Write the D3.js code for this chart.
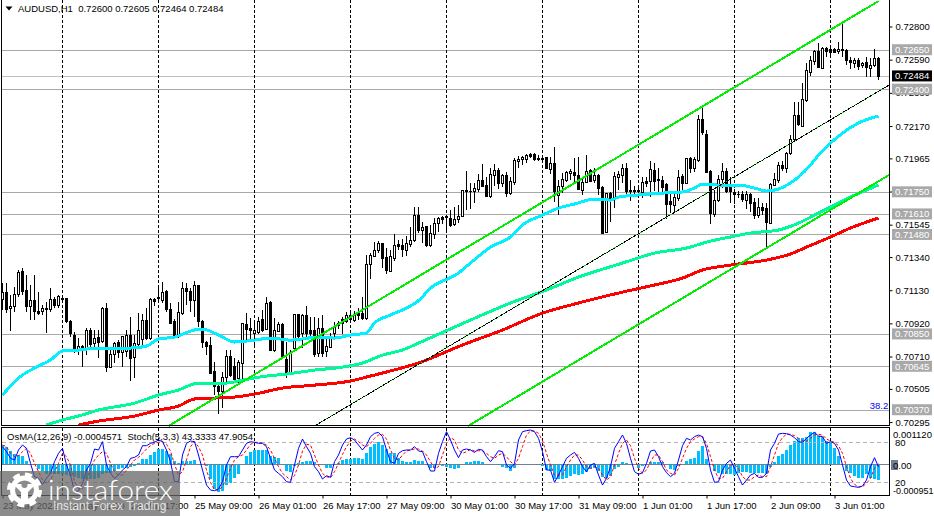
<!DOCTYPE html>
<html>
<head>
<meta charset="utf-8">
<script src="https://cdn.jsdelivr.net/npm/d3@7/dist/d3.min.js"></script>
<style>
  html, body { margin: 0; padding: 0; background: #fff; }
  svg { display: block; }
  text { font-family: "Liberation Sans", sans-serif; font-size: 9.5px; }
</style>
</head>
<body>
<div id="chart"></div>
<script>

var opens = [
  0.71070,0.71116,0.71013,0.71026,0.71104,0.71251,0.71131,0.71026,0.71062,0.70998,
  0.70994,0.71015,0.71009,0.71074,0.71032,0.71078,0.71076,0.70935,0.70846,0.70751,
  0.70773,0.70762,0.70878,0.70794,0.70830,0.70804,0.71015,0.70640,0.70724,0.70800,
  0.70737,0.70745,0.70846,0.70703,0.70787,0.70815,0.70941,0.70825,0.71072,0.71083,
  0.71062,0.71121,0.71011,0.70931,0.70846,0.70984,0.71138,0.71125,0.71068,0.71157,
  0.70935,0.70798,0.70777,0.70614,0.70519,0.70488,0.70578,0.70713,0.70646,0.70572,
  0.70667,0.70916,0.70889,0.70855,0.70863,0.70946,0.70884,0.71053,0.70751,0.70867,
  0.70914,0.70694,0.70604,0.70762,0.70977,0.70857,0.70973,0.70874,0.70874,0.70731,
  0.70889,0.70741,0.70769,0.70853,0.70920,0.70942,0.70931,0.70967,0.70937,0.70980,
  0.70980,0.70952,0.71296,0.71342,0.71380,0.71427,0.71338,0.71247,0.71328,0.71420,
  0.71416,0.71384,0.71422,0.71444,0.71606,0.71507,0.71532,0.71416,0.71486,0.71553,
  0.71591,0.71591,0.71585,0.71549,0.71579,0.71595,0.71764,0.71758,0.71754,0.71769,
  0.71828,0.71796,0.71726,0.71859,0.71891,0.71806,0.71859,0.71743,0.71811,0.71944,
  0.71961,0.71961,0.71990,0.71990,0.71965,0.71965,0.71969,0.71897,0.71933,0.71733,
  0.71785,0.71828,0.71870,0.71876,0.71859,0.71764,0.71811,0.71887,0.71828,0.71859,
  0.71781,0.71494,0.71743,0.71712,0.71844,0.71859,0.71901,0.71760,0.71762,0.71762,
  0.71747,0.71819,0.71817,0.71891,0.71830,0.71823,0.71802,0.71690,0.71669,0.71712,
  0.71849,0.71806,0.71965,0.71901,0.71954,0.72214,0.72119,0.71880,0.71612,0.71697,
  0.71832,0.71885,0.71785,0.71747,0.71739,0.71739,0.71701,0.71739,0.71684,0.71606,
  0.71655,0.71648,0.71553,0.71796,0.71828,0.71923,0.71901,0.71993,0.72082,0.72234,
  0.72170,0.72331,0.72508,0.72578,0.72641,0.72535,0.72658,0.72652,0.72652,0.72641,
  0.72649,0.72647,0.72584,0.72563,0.72582,0.72552,0.72571,0.72535,0.72552,0.72600
];
var highs = [
  0.71173,0.71173,0.71100,0.71152,0.71258,0.71273,0.71226,0.71163,0.71226,0.71121,
  0.71036,0.71057,0.71142,0.71089,0.71100,0.71100,0.71078,0.70939,0.70863,0.70825,
  0.70783,0.70893,0.70889,0.70878,0.70878,0.71026,0.71047,0.70762,0.70804,0.70815,
  0.70842,0.70878,0.70962,0.70846,0.70984,0.70977,0.71015,0.71078,0.71083,0.71142,
  0.71184,0.71131,0.71047,0.70948,0.71057,0.71184,0.71173,0.71142,0.71188,0.71163,
  0.70941,0.70808,0.70836,0.70678,0.70551,0.70614,0.70751,0.70751,0.70699,0.70688,
  0.70924,0.70984,0.70952,0.70931,0.70962,0.71005,0.71085,0.71062,0.70952,0.70931,
  0.70920,0.70804,0.70751,0.70981,0.70981,0.70977,0.71032,0.70963,0.70963,0.70952,
  0.70973,0.70836,0.70857,0.70931,0.70935,0.70963,0.70994,0.70988,0.71001,0.71015,
  0.71089,0.71353,0.71363,0.71437,0.71441,0.71431,0.71395,0.71384,0.71484,0.71448,
  0.71452,0.71473,0.71532,0.71659,0.71659,0.71564,0.71532,0.71543,0.71585,0.71595,
  0.71600,0.71606,0.71638,0.71659,0.71669,0.71764,0.71887,0.71806,0.71806,0.71866,
  0.71929,0.71844,0.71901,0.71929,0.71901,0.71866,0.71880,0.71844,0.71965,0.71980,
  0.71980,0.71992,0.71996,0.71996,0.71986,0.71971,0.71975,0.71975,0.72034,0.71828,
  0.71870,0.71887,0.71895,0.71965,0.71971,0.71838,0.71986,0.71895,0.71901,0.71866,
  0.71790,0.71743,0.71754,0.71880,0.71887,0.71927,0.71933,0.71828,0.71790,0.71796,
  0.71844,0.71844,0.71948,0.71933,0.71901,0.71853,0.71806,0.71743,0.71754,0.71891,
  0.71866,0.71969,0.71975,0.71975,0.72239,0.72292,0.72144,0.71891,0.71764,0.71859,
  0.71933,0.71901,0.71849,0.71769,0.71760,0.71760,0.71760,0.71743,0.71712,0.71712,
  0.71680,0.71680,0.71811,0.71874,0.71944,0.71948,0.72007,0.72113,0.72324,0.72324,
  0.72440,0.72567,0.72614,0.72651,0.72694,0.72668,0.72673,0.72673,0.72662,0.72704,
  0.72831,0.72656,0.72605,0.72599,0.72599,0.72578,0.72609,0.72599,0.72656,0.72605
];
var lows = [
  0.71005,0.70984,0.70874,0.70994,0.71089,0.71100,0.70990,0.70941,0.70941,0.70973,
  0.70973,0.70861,0.70994,0.71015,0.71019,0.71066,0.70924,0.70836,0.70730,0.70720,
  0.70646,0.70720,0.70773,0.70773,0.70703,0.70794,0.70614,0.70635,0.70667,0.70699,
  0.70646,0.70709,0.70557,0.70572,0.70762,0.70773,0.70815,0.70815,0.71032,0.71053,
  0.71047,0.70994,0.70914,0.70836,0.70825,0.70973,0.71036,0.70994,0.70962,0.70899,
  0.70762,0.70720,0.70597,0.70467,0.70346,0.70386,0.70530,0.70583,0.70562,0.70530,
  0.70540,0.70794,0.70804,0.70773,0.70851,0.70867,0.70878,0.70745,0.70741,0.70863,
  0.70699,0.70572,0.70600,0.70758,0.70825,0.70762,0.70836,0.70836,0.70705,0.70710,
  0.70710,0.70710,0.70762,0.70836,0.70883,0.70853,0.70920,0.70920,0.70931,0.70942,
  0.70942,0.70942,0.71201,0.71338,0.71363,0.71268,0.71230,0.71243,0.71317,0.71384,
  0.71342,0.71349,0.71406,0.71437,0.71490,0.71427,0.71401,0.71406,0.71452,0.71501,
  0.71549,0.71511,0.71532,0.71536,0.71558,0.71591,0.71638,0.71644,0.71680,0.71754,
  0.71781,0.71718,0.71712,0.71790,0.71769,0.71785,0.71722,0.71733,0.71796,0.71904,
  0.71923,0.71933,0.71965,0.71948,0.71948,0.71950,0.71895,0.71866,0.71690,0.71606,
  0.71743,0.71817,0.71828,0.71811,0.71764,0.71733,0.71806,0.71817,0.71806,0.71733,
  0.71486,0.71490,0.71560,0.71648,0.71764,0.71806,0.71739,0.71695,0.71722,0.71722,
  0.71712,0.71781,0.71722,0.71760,0.71733,0.71733,0.71579,0.71617,0.71617,0.71697,
  0.71754,0.71802,0.71870,0.71880,0.71944,0.72112,0.71870,0.71549,0.71595,0.71690,
  0.71775,0.71747,0.71680,0.71676,0.71712,0.71690,0.71642,0.71627,0.71579,0.71585,
  0.71606,0.71406,0.71549,0.71790,0.71806,0.71885,0.71874,0.71987,0.72078,0.72170,
  0.72162,0.72324,0.72487,0.72557,0.72535,0.72531,0.72609,0.72620,0.72630,0.72626,
  0.72609,0.72557,0.72529,0.72535,0.72525,0.72535,0.72478,0.72478,0.72546,0.72464
];
var closes = [
  0.71116,0.71009,0.71030,0.71106,0.71243,0.71125,0.71026,0.71062,0.70994,0.70984,
  0.71015,0.71005,0.71072,0.71032,0.71089,0.71072,0.70931,0.70855,0.70751,0.70773,
  0.70758,0.70878,0.70787,0.70825,0.70798,0.71015,0.70642,0.70724,0.70794,0.70737,
  0.70836,0.70842,0.70699,0.70794,0.70878,0.70941,0.70825,0.71074,0.71057,0.71078,
  0.71116,0.71005,0.70920,0.70846,0.70990,0.71138,0.71121,0.71068,0.71157,0.70931,
  0.70798,0.70773,0.70604,0.70519,0.70488,0.70578,0.70713,0.70593,0.70562,0.70671,
  0.70920,0.70884,0.70872,0.70872,0.70935,0.70878,0.71047,0.70751,0.70872,0.70914,
  0.70709,0.70608,0.70730,0.70977,0.70836,0.70973,0.70857,0.70857,0.70720,0.70889,
  0.70731,0.70773,0.70836,0.70895,0.70904,0.70920,0.70967,0.70942,0.70973,0.70971,
  0.70952,0.71296,0.71347,0.71384,0.71427,0.71332,0.71254,0.71342,0.71416,0.71406,
  0.71389,0.71427,0.71448,0.71602,0.71507,0.71530,0.71416,0.71490,0.71553,0.71585,
  0.71579,0.71595,0.71543,0.71579,0.71600,0.71760,0.71754,0.71754,0.71775,0.71828,
  0.71790,0.71722,0.71866,0.71891,0.71806,0.71859,0.71743,0.71817,0.71954,0.71961,
  0.71971,0.71986,0.71980,0.71958,0.71958,0.71961,0.71901,0.71933,0.71754,0.71790,
  0.71832,0.71874,0.71885,0.71859,0.71769,0.71813,0.71885,0.71821,0.71859,0.71775,
  0.71490,0.71743,0.71712,0.71849,0.71866,0.71901,0.71754,0.71754,0.71754,0.71754,
  0.71813,0.71806,0.71895,0.71821,0.71823,0.71781,0.71676,0.71674,0.71716,0.71844,
  0.71806,0.71963,0.71901,0.71961,0.72214,0.72127,0.71874,0.71617,0.71701,0.71834,
  0.71885,0.71754,0.71754,0.71739,0.71735,0.71707,0.71739,0.71680,0.71606,0.71655,
  0.71638,0.71558,0.71802,0.71832,0.71918,0.71901,0.71996,0.72086,0.72234,0.72177,
  0.72335,0.72521,0.72582,0.72641,0.72540,0.72662,0.72641,0.72635,0.72635,0.72652,
  0.72654,0.72584,0.72571,0.72582,0.72546,0.72567,0.72540,0.72552,0.72599,0.72484
];

// moving averages, read at the bars where they bend
var cyanBars = [0,4,8,12,15,19,24,27,32,36,39,43,48,50,54,58,63,67,72,79,83,87,91,93,97,101,105,106,114,117,122,127,130,135,139,143,148,152,154,159,165,170,173,175,179,184,188,191,194,197,199,202,204,207,210,214,219];
var cyanPrices = [0.70466,0.70574,0.70637,0.70688,0.70745,0.70751,0.70764,0.70764,0.70764,0.70776,0.70821,0.70833,0.70878,0.70884,0.70846,0.70802,0.70814,0.70827,0.70814,0.70833,0.70827,0.70846,0.70859,0.70922,0.70973,0.71017,0.71087,0.71118,0.71239,0.71302,0.71403,0.71467,0.71543,0.71606,0.71650,0.71676,0.71707,0.71701,0.71720,0.71733,0.71745,0.71752,0.71777,0.71802,0.71796,0.71796,0.71777,0.71758,0.71771,0.71809,0.71847,0.71923,0.71986,0.72062,0.72125,0.72189,0.72233];
var springBars = [11,15,19,24,33,39,44,49,56,60,66,71,78,85,90,95,100,104,121,127,136,144,155,163,171,177,182,187,194,199,204,207,212,219];
var springPrices = [0.70276,0.70308,0.70333,0.70371,0.70415,0.70466,0.70498,0.70542,0.70542,0.70561,0.70586,0.70599,0.70624,0.70643,0.70669,0.70719,0.70751,0.70795,0.70985,0.71049,0.71131,0.71213,0.71302,0.71365,0.71397,0.71441,0.71467,0.71492,0.71511,0.71555,0.71619,0.71657,0.71720,0.71796];
var redBars = [19,24,33,39,44,48,53,58,63,70,78,87,91,96,104,115,125,135,144,155,163,170,175,182,191,197,201,207,212,219];
var redPrices = [0.70276,0.70301,0.70333,0.70371,0.70396,0.70441,0.70447,0.70453,0.70472,0.70510,0.70529,0.70555,0.70580,0.70612,0.70669,0.70783,0.70878,0.70985,0.71049,0.71118,0.71163,0.71207,0.71258,0.71289,0.71321,0.71359,0.71403,0.71467,0.71524,0.71587];

// trend channel, start and end of each line
var upperBars = [41.5,219];
var upperPrices = [0.70270,0.72961];
var middleBars = [78,221.6];
var middlePrices = [0.70270,0.72429];
var lowerBars = [116.4,221.6];
var lowerPrices = [0.70270,0.71859];

var levels = [0.72650,0.72400,0.71750,0.71610,0.71480,0.70850,0.70645,0.70370];
var levelLabels = ["0.72650","0.72400","0.71750","0.71610","0.71480","0.70850","0.70645","0.70370"];
var lastPrice = 0.72484;
var priceTicks = [0.72800,0.72590,0.72380,0.72170,0.71965,0.71755,0.71545,0.71340,0.71130,0.70920,0.70710,0.70505,0.70295];

var daySeparators = [15,39,63,87,111,135,159,183,207];
var timeTicks = [0,16,32,48,64,80,96,112,128,144,160,176,192,208];
var timeLabels = ["23 May 2022","24 May 01:00","24 May 17:00","25 May 09:00","26 May 01:00","26 May 17:00","27 May 09:00","30 May 01:00","30 May 17:00","31 May 09:00","1 Jun 01:00","1 Jun 17:00","2 Jun 09:00","3 Jun 01:00"];

var osma = [
  0.00061,0.00053,0.00041,0.00033,0.00031,0.00028,0.00011,0.00003,-0.00002,-0.00014,
  -0.00019,-0.00027,-0.00029,-0.00029,-0.00029,-0.00029,-0.00031,-0.00034,-0.00037,-0.00039,
  -0.00042,-0.00044,-0.00042,-0.00042,-0.00039,-0.00027,-0.00024,-0.00024,-0.00019,-0.00014,
  -0.00011,-0.00009,-0.00007,-0.00004,0.00006,0.00018,0.00019,0.00031,0.00039,0.00049,
  0.00049,0.00043,0.00033,0.00013,0.00006,0.00011,0.00013,0.00013,0.00016,0.00001,
  -0.00001,-0.00004,-0.00044,-0.00074,-0.00082,-0.00079,-0.00061,-0.00054,-0.00039,-0.00027,
  0.00001,0.00026,0.00039,0.00044,0.00044,0.00046,0.00046,0.00026,0.00025,0.00021,
  0.00001,-0.00019,-0.00021,-0.00004,0.00006,0.00009,0.00011,0.00011,0.00008,0.00003,
  0.00003,-0.00009,-0.00009,-0.00001,0.00006,0.00014,0.00018,0.00019,0.00021,0.00021,
  0.00019,0.00036,0.00053,0.00063,0.00068,0.00061,0.00048,0.00036,0.00036,0.00021,
  0.00013,0.00009,0.00008,0.00016,0.00013,0.00011,-0.00001,-0.00011,-0.00009,-0.00002,
  -0.00004,-0.00007,-0.00009,-0.00012,-0.00009,-0.00001,0.00007,0.00008,0.00010,0.00013,
  0.00009,0.00001,0.00003,0.00003,-0.00002,-0.00006,-0.00011,-0.00019,-0.00009,-0.00001,
  0,0,0.00003,0,-0.00002,-0.00004,-0.00016,-0.00019,-0.00042,-0.00044,
  -0.00042,-0.00039,-0.00034,-0.00029,-0.00031,-0.00029,-0.00022,-0.00014,-0.00009,-0.00019,
  -0.00037,-0.00039,-0.00034,-0.00014,-0.00006,0.00007,0.00004,0.00003,0.00003,-0.00009,
  -0.00004,0.00003,0.00009,0.00009,0.00009,0.00009,-0.00001,-0.00014,-0.00016,-0.00004,
  -0.00001,0.00013,0.00018,0.00021,0.00043,0.00056,0.00018,0.00003,-0.00019,-0.00026,
  -0.00029,-0.00029,-0.00029,-0.00031,-0.00024,-0.00022,-0.00022,-0.00026,-0.00024,-0.00026,
  -0.00026,-0.00027,-0.00007,0.00009,0.00026,0.00033,0.00046,0.00059,0.00071,0.00081,
  0.00081,0.00086,0.00099,0.00101,0.00089,0.00086,0.00073,0.00069,0.00051,0.00026,
  -0.00001,-0.00019,-0.00024,-0.00034,-0.00039,-0.00039,-0.00029,-0.00041,-0.00044,-0.00046
];
var stochMain = [
  73.5,66,56,53.5,68.5,76,71,48.5,28.5,26,
  17,26,33.5,51,63.5,71,46,31,6,7,
  18.5,38.5,48.5,70,68.5,81,46,33.5,26,31,
  38.5,43.5,56,57.5,61,75,75,78.5,80,83.5,
  81,68.5,51,21,21,61,78.5,82,81,61,
  38.5,16,8.5,7.5,10,21,46,58.5,58.5,58.5,
  68.5,78.5,81,80,78.5,78.5,73.5,56,38.5,33.5,
  28.5,21,20,46,71,85,73.5,63.5,43.5,36,
  25,30,27.5,51,61,76,85,87,83.5,76,
  68.5,76,88.5,93.5,95,88.5,68.5,51,48.5,63.5,
  67.5,68.5,68.5,73.5,67,66,51,37,37,63.5,
  81,96,83.5,68.5,57,68.5,70,68.5,65,69.5,
  68.5,58.5,51,58.5,67.5,66,46,41,48.5,83.5,
  96,97.5,98.5,96,86,66,38.5,38.5,20,31,
  43.5,56,61,65,56,43.5,36,46,48.5,31,
  16,26,43.5,71,81,91,78.5,56,36,32,
  34.5,48.5,67,68.5,58.5,43.5,34.5,28.5,33.5,53.5,
  75,86,83.5,88.5,91,88.5,71,38.5,20,21,
  38.5,48.5,53.5,41,28.5,16,23.5,31,33.5,27.5,
  27.5,33.5,68.5,78.5,92.5,93.5,93,91,87,81,
  80,86,91,95,89.5,88.5,78.5,81,78.5,68.5,
  46,23.5,14.5,13.5,12.5,14.5,23.5,43.5,57,43.33
];
var stochSignal = [
  76,73.5,63.5,58.5,60,66,71,63.5,48.5,36,
  23.5,18.5,23.5,36,48.5,63.5,58.5,46,21,11,
  11,23.5,41,53.5,61,66,63.5,48.5,36,31,
  31,38.5,46,53.5,57.5,63.5,70,75,78.5,80,
  81,77,67,47,31,36,53.5,73.5,81,73.5,
  61,38.5,20,8.5,8.5,13.5,26,41,53.5,58.5,
  61,68.5,77,80,80,78.5,76,68.5,56,43.5,
  33.5,28.5,23.5,30,46,67,77,76,61,46,
  33.5,28.5,27,36,48.5,62,73.5,82,85,81,
  76,73.5,78.5,86,91,92,85,68.5,56,53.5,
  61,67,68.5,70,70,67,61,51,41,43.5,
  61,78.5,87,83.5,68.5,63.5,66,69.5,67,67.5,
  67,63.5,58.5,56,61,63.5,58.5,51,46,56,
  73.5,91,97,97,93.5,82.5,63.5,46,31,31,
  31,43.5,53.5,61,61,53.5,43.5,41,43.5,41,
  31,23.5,28.5,46,63.5,78.5,83.5,75,56,41,
  33.5,38.5,51,61,61,51,38.5,33.5,31,41,
  56,71,81,85,88.5,88.5,78.5,58.5,38.5,26,
  26,36,46,47,41,28.5,23.5,23.5,28.5,31,
  28.5,28.5,43.5,61,78.5,87,92.5,92,90,86,
  82.5,82,86,91,92,91,85,82,80,75,
  63.5,43.5,26,17,13.5,13.5,18.5,26,41,47.91
];

var width = 934, height = 516;
var plotLeft = 1.5, plotRight = 889.5;
var mainBottom = 425.5, subTop = 427.5, subBottom = 495.5;

var svg = d3.select("#chart").append("svg")
  .attr("width", width)
  .attr("height", height);

var xScale = d3.scaleLinear().domain([0, 219]).range([2.5, 878.5]);
var yScale = d3.scaleLinear().domain([0.70270, 0.72968]).range([426, 0]);
var osmaScale = d3.scaleLinear().domain([-0.000951, 0.00112]).range([496, 428]);
var stochScale = d3.scaleLinear().domain([0, 100]).range([495.7, 429]);

var bars = d3.range(opens.length);

function px(v) { return Math.round(v - 0.5) + 0.5; }

// levels first, the candles sit on them
svg.append("g").selectAll("line")
  .data(levels)
  .enter().append("line")
  .attr("x1", plotLeft).attr("x2", plotRight)
  .attr("y1", function(d){ return px(yScale(d)); })
  .attr("y2", function(d){ return px(yScale(d)); })
  .attr("stroke", "#a9a9a9")
  .attr("shape-rendering", "crispEdges");

svg.append("line")
  .attr("x1", plotLeft).attr("x2", plotRight)
  .attr("y1", px(yScale(lastPrice))).attr("y2", px(yScale(lastPrice)))
  .attr("stroke", "#c0c0c0")
  .attr("shape-rendering", "crispEdges");

// day separators in both panels
var sep = svg.append("g").selectAll("g").data(daySeparators).enter().append("g");
sep.append("line")
  .attr("x1", function(d){ return xScale(d); })
  .attr("x2", function(d){ return xScale(d); })
  .attr("y1", 0).attr("y2", mainBottom);
sep.append("line")
  .attr("x1", function(d){ return xScale(d); })
  .attr("x2", function(d){ return xScale(d); })
  .attr("y1", subTop).attr("y2", subBottom);
sep.selectAll("line")
  .attr("stroke", "#000")
  .attr("stroke-dasharray", "3,2")
  .attr("shape-rendering", "crispEdges");

// candles
var candle = svg.append("g").attr("shape-rendering", "crispEdges")
  .selectAll("g").data(bars).enter().append("g");

candle.append("line")
  .attr("x1", function(i){ return xScale(i); })
  .attr("x2", function(i){ return xScale(i); })
  .attr("y1", function(i){ return yScale(highs[i]); })
  .attr("y2", function(i){ return yScale(lows[i]); })
  .attr("stroke", "#000");

candle.append("rect")
  .attr("x", function(i){ return xScale(i) - 1; })
  .attr("width", 2)
  .attr("y", function(i){ return yScale(Math.max(opens[i], closes[i])); })
  .attr("height", function(i){ return Math.abs(yScale(opens[i]) - yScale(closes[i])); })
  .attr("fill", function(i){ return closes[i] >= opens[i] ? "#fff" : "#000"; })
  .attr("stroke", "#000");

var priceLine = d3.line()
  .curve(d3.curveMonotoneX)
  .x(function(d){ return xScale(d[0]); })
  .y(function(d){ return yScale(d[1]); });

function drawLine(barList, priceList, color, strokeWidth) {
  return svg.append("path")
    .attr("d", priceLine(d3.zip(barList, priceList)))
    .attr("fill", "none")
    .attr("stroke", color)
    .attr("stroke-width", strokeWidth)
    .attr("stroke-linejoin", "round")
    .attr("shape-rendering", "crispEdges");
}

drawLine(cyanBars, cyanPrices, "#00f0ff", 3);
drawLine(redBars, redPrices, "#ff0000", 3);
drawLine(springBars, springPrices, "#00fa9a", 3);
drawLine(upperBars, upperPrices, "#00ee00", 2);
drawLine(lowerBars, lowerPrices, "#00ee00", 2);
drawLine(middleBars, middlePrices, "#00ee00", 1);
drawLine(middleBars, middlePrices, "#000", 1).attr("stroke-dasharray", "4,1");

svg.append("text")
  .attr("x", 879).attr("y", 409)
  .attr("text-anchor", "middle")
  .attr("fill", "#0000ff")
  .text("38.2");

// oscillator panel
svg.append("g").attr("shape-rendering", "crispEdges")
  .selectAll("rect").data(bars).enter().append("rect")
  .attr("x", function(i){ return xScale(i) - 1.5; })
  .attr("width", 3)
  .attr("y", function(i){ return Math.min(osmaScale(osma[i]), osmaScale(0)); })
  .attr("height", function(i){ return Math.abs(osmaScale(osma[i]) - osmaScale(0)); })
  .attr("fill", "#00bfff");

svg.append("g").selectAll("line")
  .data([80, 20])
  .enter().append("line")
  .attr("x1", plotLeft).attr("x2", plotRight)
  .attr("y1", function(d){ return px(stochScale(d)); })
  .attr("y2", function(d){ return px(stochScale(d)); })
  .attr("stroke", "#b4b4b4")
  .attr("stroke-dasharray", "4,3")
  .attr("shape-rendering", "crispEdges");

svg.append("line")
  .attr("x1", plotLeft).attr("x2", plotRight)
  .attr("y1", px(osmaScale(0))).attr("y2", px(osmaScale(0)))
  .attr("stroke", "#708090")
  .attr("stroke-width", 1)
  .attr("shape-rendering", "crispEdges");

var stochLine = d3.line()
  .x(function(d, i){ return xScale(i); })
  .y(function(d){ return stochScale(d); });

svg.append("path")
  .attr("d", stochLine(stochSignal))
  .attr("fill", "none")
  .attr("stroke", "#ff0000")
  .attr("stroke-dasharray", "3,2");

svg.append("path")
  .attr("d", stochLine(stochMain))
  .attr("fill", "none")
  .attr("stroke", "#0000ff")
  .attr("stroke-width", 1);

// frames
svg.append("rect").attr("x", plotLeft).attr("y", -2)
  .attr("width", plotRight - plotLeft).attr("height", mainBottom + 2)
  .attr("fill", "none").attr("stroke", "#000").attr("shape-rendering", "crispEdges");
svg.append("rect").attr("x", plotLeft).attr("y", subTop)
  .attr("width", plotRight - plotLeft).attr("height", subBottom - subTop)
  .attr("fill", "none").attr("stroke", "#000").attr("shape-rendering", "crispEdges");

// price axis
var priceAxis = d3.axisRight(yScale)
  .tickValues(priceTicks)
  .tickFormat(d3.format(".5f"))
  .tickSize(3)
  .tickPadding(3);

var priceG = svg.append("g")
  .attr("transform", "translate(" + plotRight + ",0)")
  .call(priceAxis);
priceG.select(".domain").remove();
priceG.attr("font-family", null).attr("font-size", null);
priceG.selectAll("text").attr("fill", "#000");

// level tags cover the axis labels they land on
var tag = svg.append("g").selectAll("g").data(levels).enter().append("g")
  .attr("transform", function(d){ return "translate(0," + yScale(d) + ")"; });
tag.append("rect")
  .attr("x", 892).attr("y", -6).attr("width", 40).attr("height", 11)
  .attr("fill", "#a9a9a9");
tag.append("text")
  .attr("x", 895).attr("y", 3)
  .attr("fill", "#fff")
  .text(function(d, i){ return levelLabels[i]; });

var lastTag = svg.append("g").attr("transform", "translate(0," + yScale(lastPrice) + ")");
lastTag.append("rect")
  .attr("x", 892).attr("y", -6).attr("width", 40).attr("height", 11)
  .attr("fill", "#000");
lastTag.append("text")
  .attr("x", 895).attr("y", 3)
  .attr("fill", "#fff")
  .text(d3.format(".5f")(lastPrice));

// oscillator scale labels
svg.append("text").attr("x", 893).attr("y", 438).text("0.001120");
svg.append("text").attr("x", 895).attr("y", 446).text("80");
svg.append("rect").attr("x", 891).attr("y", 460).attr("width", 7).attr("height", 10).attr("fill", "#708090");
svg.append("text").attr("x", 893).attr("y", 469).text("0.00");
svg.append("text").attr("x", 895).attr("y", 486).text("20");
svg.append("text").attr("x", 893).attr("y", 494).style("font-size", "9px").text("-0.000951");

// time axis
var timeAxis = d3.axisBottom(xScale)
  .tickValues(timeTicks)
  .tickFormat(function(d, i){ return timeLabels[i]; })
  .tickSize(3)
  .tickPadding(4);

var timeG = svg.append("g")
  .attr("transform", "translate(0," + subBottom + ")")
  .call(timeAxis);
timeG.select(".domain").remove();
timeG.attr("font-family", null).attr("font-size", null);
timeG.selectAll("text")
  .attr("text-anchor", "start")
  .attr("fill", "#000");

// headers
svg.append("path")
  .attr("d", "M5.5,6.5 L12.5,6.5 L9,10.5 Z")
  .attr("fill", "#000");
svg.append("text")
  .attr("x", 18).attr("y", 12)
  .attr("xml:space", "preserve")
  .text("AUDUSD,H1  0.72600 0.72605 0.72464 0.72484");
svg.append("text")
  .attr("x", 7).attr("y", 440)
  .attr("xml:space", "preserve")
  .text("OsMA(12,26,9) -0.0004571  Stoch(5,3,3) 43.3333 47.9054");

// watermark
var mark = svg.append("g");
mark.append("rect")
  .attr("x", 0).attr("y", 471).attr("width", 180).attr("height", 45)
  .attr("fill", "#666").attr("opacity", 0.75);
mark.append("circle")
  .attr("cx", 24.5).attr("cy", 490).attr("r", 12)
  .attr("fill", "none").attr("stroke", "#fff").attr("stroke-width", 5);
mark.append("circle")
  .attr("cx", 24.5).attr("cy", 490).attr("r", 15.5)
  .attr("fill", "none").attr("stroke", "#fff").attr("stroke-width", 4)
  .attr("stroke-dasharray", "7,5.17");
mark.append("path")
  .attr("d", "M13,484 L36,484 L28,492 L28,502 L21,502 L21,492 Z")
  .attr("fill", "#fff");
mark.append("circle")
  .attr("cx", 24.5).attr("cy", 485).attr("r", 3)
  .attr("fill", "#8c8c8c");
mark.append("text")
  .attr("x", 48).attr("y", 500)
  .attr("fill", "#fff")
  .attr("textLength", 125)
  .attr("lengthAdjust", "spacingAndGlyphs")
  .style("font-family", "Lato, sans-serif")
  .style("font-weight", 300)
  .style("font-size", "27px")
  .text("instaforex");
mark.append("text")
  .attr("x", 53).attr("y", 510)
  .attr("fill", "#fff")
  .attr("fill-opacity", 0.8)
  .style("font-size", "12px")
  .text("Instant Forex Trading");

</script>
</body>
</html>
